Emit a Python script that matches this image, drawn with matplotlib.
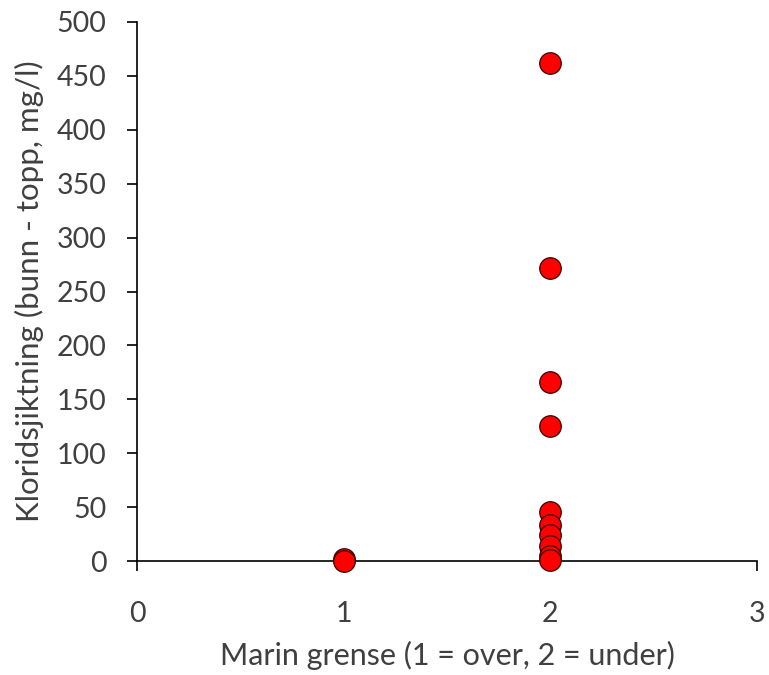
import matplotlib
matplotlib.use('Agg')
import matplotlib.pyplot as plt

plt.rcParams['font.family'] = ['Lato', 'DejaVu Sans']

# Marin grense: 1 = over, 2 = under
marin_grense = [1, 1, 2, 2, 2, 2, 2, 2, 2, 2, 2, 2]
kloridsjiktning = [2, 0, 462, 272, 166, 125, 45, 33, 24, 14, 5, 1]

x_ticks = [0, 1, 2, 3]
y_ticks = list(range(0, 501, 50))

fig = plt.figure(figsize=(7.69, 6.75), dpi=100)
ax = fig.add_axes([137 / 769, 1 - 561 / 675, 620 / 769, 539 / 675])

ax.scatter(marin_grense, kloridsjiktning, s=240, color='#ff0000',
           edgecolor='#3a0000', linewidth=0.9, zorder=3, clip_on=False)

ax.set_xlim(0, 3)
ax.set_ylim(0, 500)
ax.set_xticks(x_ticks)
ax.set_yticks(y_ticks)

for side in ['top', 'right']:
    ax.spines[side].set_visible(False)
for side in ['left', 'bottom']:
    ax.spines[side].set_linewidth(1.2)
    ax.spines[side].set_color('black')

ax.tick_params(axis='both', direction='out', length=7, width=1.2,
               labelsize=20.5, color='black', labelcolor='#404040')
ax.tick_params(axis='x', pad=22)
ax.tick_params(axis='y', pad=15)

ax.set_xlabel('Marin grense (1 = over, 2 = under)', fontsize=22,
              color='#404040', labelpad=10)
ax.set_ylabel('Kloridsjiktning (bunn - topp, mg/l)', fontsize=22.5,
              color='#404040', labelpad=9)

fig.savefig('out.png', dpi=100)
